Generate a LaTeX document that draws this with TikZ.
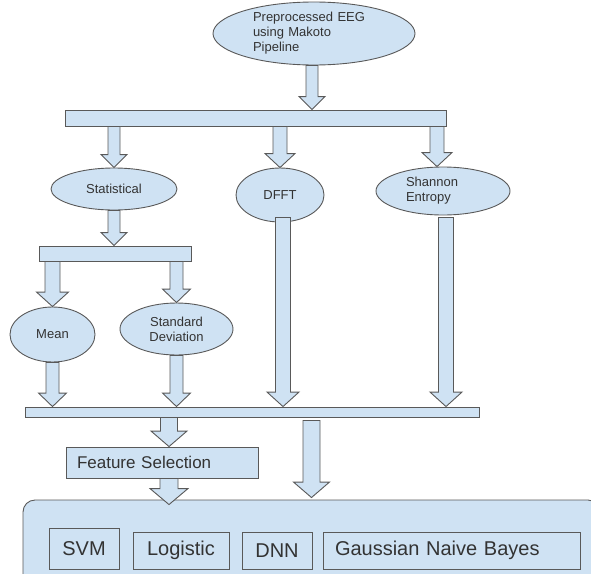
\documentclass[tikz,border=0pt]{standalone}
\usepackage{fontspec}
\setmainfont{Liberation Sans}
\usetikzlibrary{shapes.geometric,calc}

\definecolor{boxblue}{HTML}{CFE2F3}
\definecolor{boxline}{HTML}{595959}
\definecolor{boxtext}{HTML}{333333}

\tikzset{
  blob/.style={ellipse,draw=boxline,fill=boxblue,line width=0.9pt,inner sep=0pt,
    text=boxtext,font=\fontsize{13}{15}\selectfont},
  bar/.style={rectangle,draw=boxline,fill=boxblue,line width=0.9pt,inner sep=0pt},
  panel/.style={rectangle,draw=boxline,fill=boxblue,line width=0.9pt,rounded corners=12pt},
  method/.style={rectangle,draw=boxline,fill=boxblue,line width=0.9pt,
    text=boxtext,font=\fontsize{20}{24}\selectfont},
  blockarrow/.style={draw=boxline,fill=boxblue,line width=0.9pt,line join=miter}
}

% #1 shaft half width, #2 start, #3 tip
\newcommand{\blockarrow}[3][7]{%
  \path[blockarrow] let \p1=(#2), \p2=(#3) in
    (\x1-#1,\y1) -- (\x1+#1,\y1) -- (\x1+#1,\y2+#1+7) -- (\x1+2*#1+1,\y2+#1+7)
    -- (\x1,\y2) -- (\x1-2*#1-1,\y2+#1+7) -- (\x1-#1,\y2+#1+7) -- cycle;}

\begin{document}
\begin{tikzpicture}[x=1pt,y=-1pt]
\useasboundingbox (0,0) rectangle (591,573);
\clip (0,0) rectangle (591,573);
% Drawing the source and the first split
\node[blob,minimum width=202pt,minimum height=63pt,text width=122pt,align=left] (eeg) at (314,33.5)
  {Preprocessed EEG\\using Makoto\\Pipeline};
\node[bar,minimum width=381pt,minimum height=16pt] (split) at (255.5,118) {};
\blockarrow[6]{[xshift=-2pt]eeg.south}{[xshift=-2pt]eeg.south |- split.north}
% Feature extractors
\node[blob,minimum width=126pt,minimum height=42pt] (stat) at (114,189) {Statistical};
\node[blob,minimum width=88pt,minimum height=54pt] (dfft) at (280,195) {DFFT};
\node[blob,minimum width=134pt,minimum height=48pt,text width=74pt,align=left] (shannon) at (443,191)
  {Shannon\\Entropy};
\blockarrow[6]{split.south -| stat.north}{stat.north}
\blockarrow{split.south -| dfft.north}{dfft.north}
\blockarrow{[xshift=-6pt]split.south -| shannon.north}{[xshift=-6pt]shannon.north}
% Statistical split
\node[bar,minimum width=152pt,minimum height=15pt] (statsplit) at (115,253.5) {};
\blockarrow[6]{stat.south}{stat.south |- statsplit.north}
\node[blob,minimum width=85pt,minimum height=55pt] (mean) at (52.5,334.5) {Mean};
\node[blob,minimum width=113pt,minimum height=52pt,align=center] (sd) at (176.5,329)
  {Standard\\Deviation};
\blockarrow[7.5]{statsplit.south -| mean.north}{mean.north}
\blockarrow[6.5]{statsplit.south -| sd.north}{sd.north}
% Merge bar
\node[bar,minimum width=454pt,minimum height=10pt] (merge) at (252,412) {};
\blockarrow[6.5]{mean.south}{mean.south |- merge.north}
\blockarrow[6.5]{sd.south}{sd.south |- merge.north}
\blockarrow[7.5]{[xshift=3pt,yshift=5pt]dfft.south}{[xshift=3pt]dfft.south |- merge.north}
\blockarrow[7.5]{[xshift=3pt,yshift=-2pt]shannon.south}{[xshift=3pt]shannon.south |- merge.north}
% Feature selection and classifiers
\node[bar,minimum width=192pt,minimum height=31pt,text width=170pt,align=left,
  text=boxtext,font=\fontsize{17}{20}\selectfont] (select) at (162,462.5) {Feature Selection};
\blockarrow[8.5]{[xshift=7pt]merge.south -| select.north}{[xshift=7pt]select.north}
\node[panel,minimum width=577pt,minimum height=90pt] (models) at (311.5,545) {};
\blockarrow[9]{[xshift=7pt]select.south}{[xshift=7pt,yshift=-5pt]select.south |- models.north}
\blockarrow[8.5]{[yshift=-3pt]models.north |- merge.south}{[yshift=2pt]models.north}
\node[method,minimum width=70pt,minimum height=41pt] (svm) at (84,548.5) {SVM};
\node[method,minimum width=96pt,minimum height=37pt] (logit) at (181,550.5) {Logistic};
\node[method,minimum width=70pt,minimum height=37pt] (dnn) at (277,550.5) {DNN};
\node[method,minimum width=257pt,minimum height=37pt,text width=233pt,align=left] (gnb) at (451.5,550.5)
  {Gaussian Naive Bayes};
\end{tikzpicture}
\end{document}
